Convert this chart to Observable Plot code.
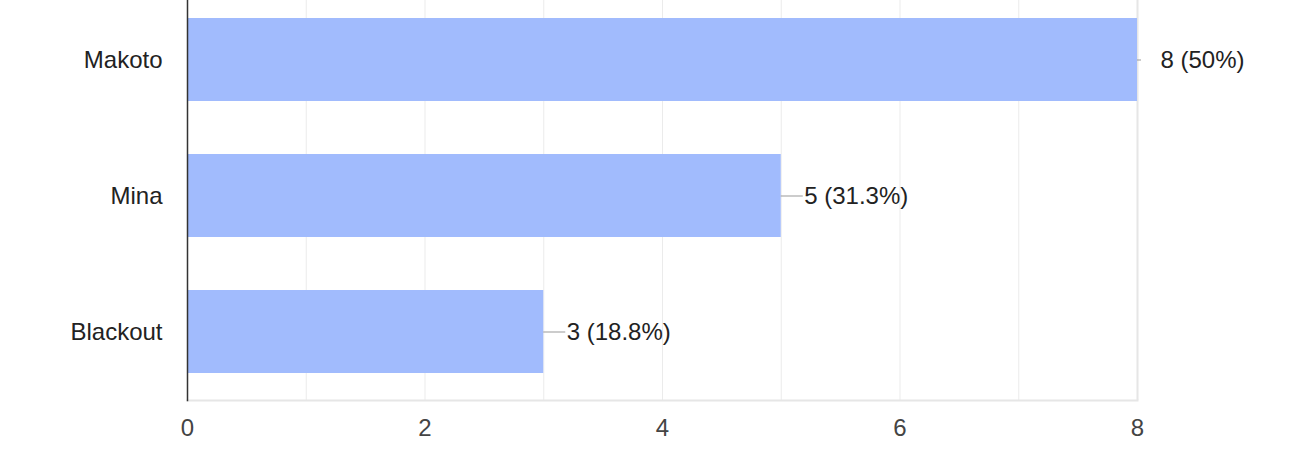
<!DOCTYPE html>
<html>
<head>
<meta charset="utf-8">
<script src="https://cdn.jsdelivr.net/npm/d3@7"></script>
<script src="https://cdn.jsdelivr.net/npm/@observablehq/plot@0.6"></script>
<style>
  html, body { margin: 0; padding: 0; background: #fff; }
  #chart svg { display: block; }
</style>
</head>
<body>
<div id="chart"></div>
<script>
const categories = ["Makoto", "Mina", "Blackout"];
const counts = [8, 5, 3];
const valueLabels = ["8 (50%)", "5 (31.3%)", "3 (18.8%)"];
const xTickValues = [0, 2, 4, 6, 8];
const gridValues = [1, 2, 3, 4, 5, 6, 7];
const xMax = 8;

const data = categories.map((c, i) => ({category: c, count: counts[i], label: valueLabels[i]}));
const maxCount = d3.max(counts);

const chart = Plot.plot({
  width: 1298,
  height: 470,
  marginLeft: 187,
  marginRight: 161,
  marginTop: 0,
  marginBottom: 70,
  style: {fontFamily: "'Liberation Sans', Arial, sans-serif", fontSize: "24px", background: "#fff"},
  x: {domain: [0, xMax]},
  y: {domain: categories, paddingInner: 0.39, paddingOuter: 0.165, align: 0.4},
  marks: [
    Plot.ruleX(gridValues, {stroke: "#ebebeb", strokeWidth: 1}),
    Plot.ruleX([xMax], {stroke: "#e6e6e6", strokeWidth: 2}),
    Plot.frame({anchor: "bottom", stroke: "#e6e6e6", strokeWidth: 2}),
    Plot.barX(data, {y: "category", x: "count", fill: "#a1bbfd"}),
    Plot.ruleY(data.filter(d => d.count !== maxCount), {y: "category", x1: "count", x2: "count", insetRight: -22, stroke: "#999", strokeWidth: 1}),
    Plot.ruleY(data.filter(d => d.count === maxCount), {y: "category", x1: "count", x2: "count", insetRight: -4, stroke: "#999", strokeWidth: 1}),
    Plot.text(data, {y: "category", x: "count", text: "label", textAnchor: "start", dx: 23, fill: "#222", fontSize: 24}),
    Plot.frame({anchor: "left", stroke: "#333", strokeWidth: 1.5}),
    Plot.axisX(xTickValues, {tickSize: 0, tickPadding: 18, fontSize: 24, fill: "#444", label: null, tickFormat: d3.format("d")}),
    Plot.axisY({tickSize: 0, tickPadding: 25, fontSize: 24, fill: "#222", label: null})
  ]
});
document.getElementById("chart").appendChild(chart);
</script>
</body>
</html>
